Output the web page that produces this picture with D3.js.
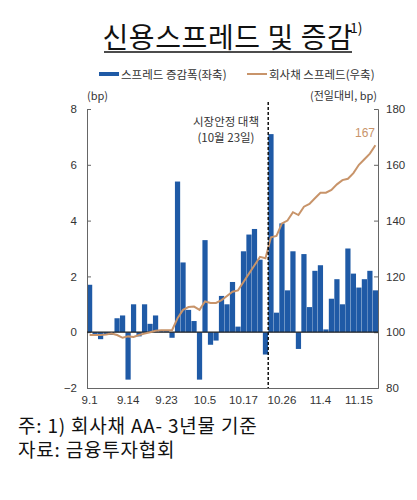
<!DOCTYPE html>
<html><head><meta charset="utf-8">
<script src="https://cdn.jsdelivr.net/npm/d3@7.9.0/dist/d3.min.js"></script>
<style>
body{margin:0;background:#fff;font-family:"Noto Sans CJK KR",sans-serif;}
</style></head>
<body><svg id="c" width="417" height="500"></svg>
<script>
// trading days, Sep 1 - Nov 18
const dates = ['9.1','9.2','9.5','9.6','9.7','9.8','9.13','9.14','9.15','9.16','9.19','9.20','9.21','9.22','9.23',
  '9.26','9.27','9.28','9.29','9.30','10.4','10.5','10.6','10.7','10.11','10.12','10.13','10.14','10.17','10.18',
  '10.19','10.20','10.21','10.24','10.25','10.26','10.27','10.28','10.31','11.1','11.2','11.3','11.4','11.7',
  '11.8','11.9','11.10','11.11','11.14','11.15','11.16','11.17','11.18'];
const tickDates = ['9.1','9.14','9.23','10.5','10.17','10.26','11.4','11.15'];
const change = [1.7,-0.1,-0.25,-0.1,-0.1,0.5,0.6,-1.7,1.0,-0.15,1.0,0.3,0.6,0.05,0.05,-0.2,5.4,2.5,0.8,0.4,
  -1.7,3.3,-0.45,-0.3,1.3,1.0,1.8,0.2,2.9,3.5,3.7,2.6,-0.8,
  7.1,0.7,3.9,1.5,2.9,-0.6,2.8,0.9,2.2,2.4,0.1,1.2,1.9,1.0,3.0,2.1,1.6,1.9,2.2,1.5];
const spread = [99,99,99,99.2,99.5,99,98,98.5,98.3,99,99.5,100,100.5,100.7,100.7,100.7,105,108,109,109.2,
  108,111,110.5,110.5,111.5,113,114.5,115,118,121,124,127,126.5,134,134.5,139,140,143,142,145,146,148,150,150,
  151,153,154.5,155,157,160,162,164,167];
const leftTicks = [-2,0,2,4,6,8];
const rightTicks = [80,100,120,140,160,180];

const svg = d3.select('#c');
const L = 87, R = 378, T = 109, B = 388;
const x = d3.scaleBand().domain(dates).range([L, R]).paddingInner(0.05);
const yL = d3.scaleLinear().domain([-2, 8]).range([B, T]);
const yR = d3.scaleLinear().domain([80, 180]).range([B, T]);
const blue = '#1f5aa6', tan = '#c8946a', txt = '#333';

// title
svg.append('text').attr('x', 228).attr('y', 48).attr('text-anchor', 'middle')
  .attr('font-size', 28).attr('letter-spacing', 0.6).attr('fill', '#111').text('신용스프레드 및 증감');
svg.append('line').attr('x1', 104).attr('x2', 352).attr('y1', 52).attr('y2', 52).attr('stroke', '#111').attr('stroke-width', 1.5);
svg.append('text').attr('x', 350).attr('y', 33).attr('font-size', 14).attr('fill', '#111').text('1)');

// legend
svg.append('rect').attr('x', 99).attr('y', 72).attr('width', 20).attr('height', 4).attr('fill', blue);
svg.append('text').attr('x', 121).attr('y', 79).attr('font-size', 11.5).attr('fill', txt).text('스프레드 증감폭(좌축)');
svg.append('line').attr('x1', 247).attr('x2', 267).attr('y1', 74).attr('y2', 74).attr('stroke', tan).attr('stroke-width', 2);
svg.append('text').attr('x', 269).attr('y', 79).attr('font-size', 11.5).attr('fill', txt).text('회사채 스프레드(우축)');

svg.append('text').attr('x', 87).attr('y', 100).attr('font-size', 11).attr('fill', txt).text('(bp)');
svg.append('text').attr('x', 377).attr('y', 100).attr('text-anchor', 'end').attr('font-size', 11).attr('fill', txt).text('(전일대비, bp)');

// bars
svg.selectAll('rect.bar').data(change).enter().append('rect').attr('class', 'bar')
  .attr('x', (d, i) => x(dates[i])).attr('width', x.bandwidth())
  .attr('y', d => yL(Math.max(0, d))).attr('height', d => Math.abs(yL(d) - yL(0)))
  .attr('fill', blue);

// axes
const axL = svg.append('g').attr('transform', `translate(${L},0)`)
  .call(d3.axisLeft(yL).tickValues(leftTicks).tickSize(0).tickPadding(10).tickFormat(d => d < 0 ? '−' + (-d) : d));
const axR = svg.append('g').attr('transform', `translate(${R},0)`)
  .call(d3.axisRight(yR).tickValues(rightTicks).tickSize(-4).tickPadding(8));
const axB = svg.append('g').attr('transform', `translate(0,${B})`)
  .call(d3.axisBottom(x).tickValues(tickDates).tickSize(0).tickPadding(8));
[axL, axR, axB].forEach(g => {
  g.selectAll('text').attr('font-size', 11.5).attr('fill', txt).attr('font-family', 'Liberation Sans, Arial, sans-serif');
  g.select('.domain').attr('stroke', '#666');
});
axR.selectAll('line').attr('stroke', '#666');
svg.append('line').attr('x1', L).attr('x2', R).attr('y1', yL(0)).attr('y2', yL(0)).attr('stroke', '#222').attr('stroke-width', 1.2);
axL.selectAll('.tick').append('line').attr('x2', 4).attr('stroke', '#666');

// spread line
svg.append('path').datum(spread)
  .attr('d', d3.line().x((d, i) => x(dates[i]) + x.bandwidth() / 2).y(d => yR(d)))
  .attr('fill', 'none').attr('stroke', tan).attr('stroke-width', 2);
svg.append('text').attr('x', 375).attr('y', yR(167) - 8).attr('text-anchor', 'end')
  .attr('font-size', 12).attr('fill', tan).attr('font-family', 'Liberation Sans, Arial').text('167');

// policy line (between 10.21 and 10.24)
const px = (x('10.21') + x.bandwidth() + x('10.24')) / 2;
svg.append('line').attr('x1', px).attr('x2', px).attr('y1', 102).attr('y2', B)
  .attr('stroke', '#111').attr('stroke-width', 1.5).attr('stroke-dasharray', '3,2');
svg.append('text').attr('x', 226).attr('y', 126).attr('text-anchor', 'middle').attr('font-size', 11.5).attr('fill', txt).text('시장안정 대책');
svg.append('text').attr('x', 226).attr('y', 142).attr('text-anchor', 'middle').attr('font-size', 11.5).attr('fill', txt).text('(10월 23일)');

// notes
svg.append('text').attr('x', 18).attr('y', 433).attr('font-size', 19).attr('letter-spacing', 0.8).attr('fill', '#111').text('주: 1) 회사채 AA- 3년물 기준');
svg.append('text').attr('x', 18).attr('y', 457).attr('font-size', 19).attr('letter-spacing', 0.8).attr('fill', '#111').text('자료: 금융투자협회');
</script></body></html>
